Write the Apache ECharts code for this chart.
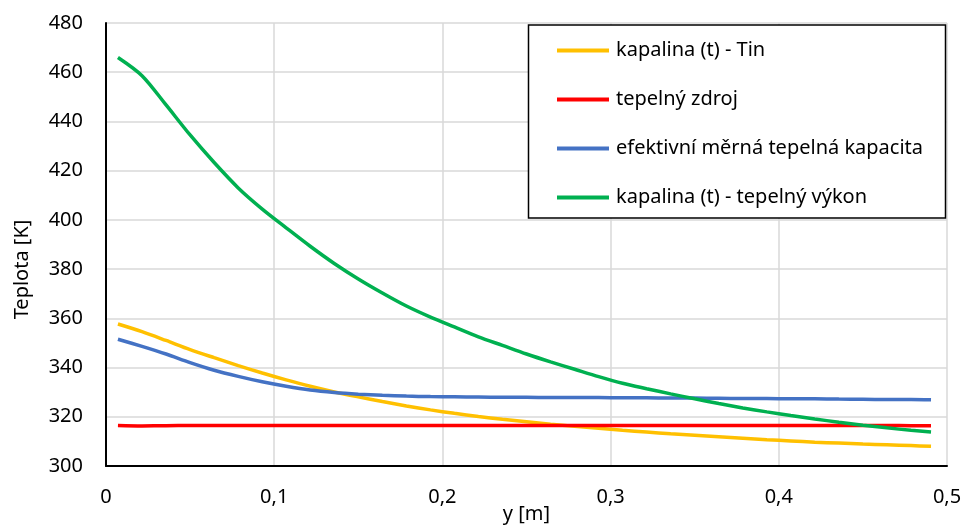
<!DOCTYPE html>
<html><head><meta charset="utf-8">
<script src="https://cdn.jsdelivr.net/npm/echarts@6/dist/echarts.min.js"></script>
<style>html,body{margin:0;padding:0;background:#fff}#c{width:963px;height:528px}</style>
</head><body><div id="c"></div>
<script>
const xs = [0.0071,0.0214,0.0357,0.05,0.0643,0.0786,0.0929,0.1071,0.1214,0.1357,0.15,0.1643,0.1786,0.1929,0.2071,0.2214,0.2357,0.25,0.2643,0.2786,0.2929,0.3071,0.3214,0.3357,0.35,0.3643,0.3786,0.3929,0.4071,0.4214,0.4357,0.45,0.4643,0.4786,0.4905];
const tin = [357.7,354.6,351.0,347.3,344.0,340.8,337.8,335.0,332.4,330.1,328.1,326.2,324.4,322.8,321.4,320.1,319.0,318.0,317.0,316.1,315.3,314.5,313.8,313.1,312.5,311.9,311.3,310.7,310.2,309.7,309.3,308.9,308.6,308.3,308.0];
const zdroj = [316.5,316.3,316.4,316.5,316.5,316.5,316.5,316.5,316.5,316.5,316.5,316.5,316.5,316.5,316.5,316.5,316.5,316.5,316.5,316.5,316.5,316.5,316.5,316.5,316.5,316.5,316.5,316.5,316.5,316.5,316.5,316.5,316.5,316.4,316.4];
const kapacita = [351.5,348.6,345.5,342.0,338.9,336.4,334.2,332.4,330.9,329.9,329.2,328.7,328.4,328.2,328.1,328.0,327.9,327.9,327.8,327.8,327.8,327.7,327.7,327.6,327.6,327.5,327.4,327.4,327.3,327.3,327.2,327.1,327.0,327.0,326.9];
const vykon = [466.0,458.6,446.7,434.5,423.3,413.0,404.4,396.8,389.3,382.3,376.0,370.3,365.0,360.5,356.5,352.5,349.0,345.5,342.3,339.3,336.3,333.6,331.4,329.3,327.3,325.4,323.6,322.0,320.5,319.1,317.8,316.6,315.5,314.5,313.8];
const names = ['kapalina (t) - Tin','tepelný zdroj','efektivní měrná tepelná kapacita','kapalina (t) - tepelný výkon'];
const colors = ['#FFC000','#FF0000','#4472C4','#00B050'];
const seriesVals = [tin, zdroj, kapacita, vykon];
const FONT = 'Noto Sans';

const chart = echarts.init(document.getElementById('c'), null, {renderer:'canvas'});
chart.setOption({
  animation:false,
  backgroundColor:'#fff',
  textStyle:{fontFamily:FONT},
  grid:{left:106,right:16,top:23,bottom:62,containLabel:false,outerBoundsMode:'none'},
  xAxis:{type:'value',min:0,max:0.5,interval:0.1,name:'y [m]',nameLocation:'middle',nameGap:38,nameMoveOverlap:false,
    nameTextStyle:{fontSize:20,color:'#000',fontFamily:FONT},
    axisLine:{show:true,lineStyle:{color:'#000',width:2}},axisTick:{show:false},
    axisLabel:{fontSize:20,color:'#000',margin:21,fontFamily:FONT,formatter:v=>String(+v.toFixed(1)).replace('.',',')},
    splitLine:{show:true,lineStyle:{color:'#d9d9d9',width:1.5}}},
  yAxis:{type:'value',min:300,max:480,interval:20,name:'Teplota [K]',nameLocation:'middle',nameGap:74,nameMoveOverlap:false,
    nameTextStyle:{fontSize:20,color:'#000',fontFamily:FONT,padding:[0,50,0,0]},
    axisLine:{show:true,lineStyle:{color:'#000',width:2}},axisTick:{show:false},
    axisLabel:{fontSize:20,color:'#000',margin:23,fontFamily:FONT},
    splitLine:{show:true,lineStyle:{color:'#d9d9d9',width:1.5}}},
  legend:{orient:'vertical',left:552,top:34,itemWidth:52,itemHeight:4,itemGap:26,icon:'rect',z:100,
    textStyle:{fontSize:20,color:'#000',lineHeight:23,padding:[0,0,0,2],fontFamily:FONT},
    data:names},
  graphic:[{type:'rect',shape:{x:528.5,y:25,width:417,height:193},style:{fill:'#fff',stroke:'#000',lineWidth:1.5},z:90}],
  series:seriesVals.map((vals,i)=>({name:names[i],type:'line',smooth:0.3,symbol:'none',z:2+i,
    lineStyle:{color:colors[i],width:3.5},itemStyle:{color:colors[i]},
    data:xs.map((x,j)=>[x,vals[j]])}))
});
</script></body></html>
